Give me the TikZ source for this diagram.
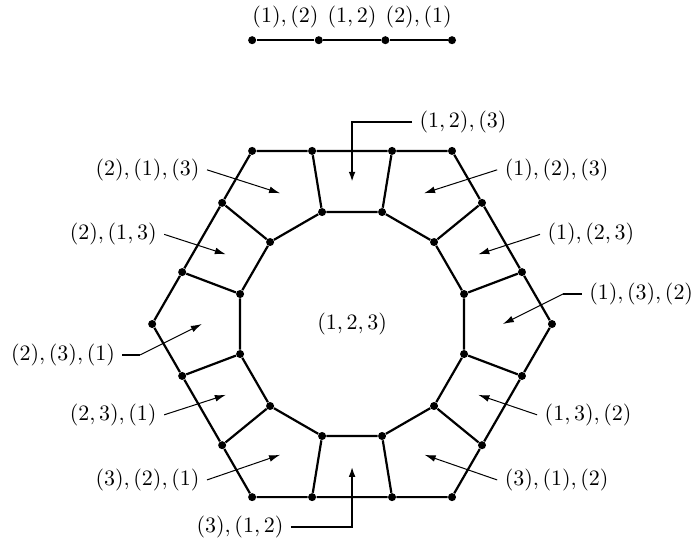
\documentclass[11pt,tikz,border=0pt]{standalone}
\usetikzlibrary{arrows.meta, positioning, calc}

\begin{document}
\begin{tikzpicture}[
        dot/.style  = {circle, fill, inner sep=0pt, minimum size=4pt},
        edge/.style = {line width=1.1pt},
        lbl/.style  = {inner sep=3.6pt},
        ar/.style   = {-{Latex[length=5.5pt, width=3.4pt]}, line width=0.5pt},
        elb/.style  = {-{Latex[length=5pt, width=3.4pt]}, line width=0.9pt},
        stub/.style = {line width=1.1pt}
    ]
        \useasboundingbox (-6.165,-3.818) rectangle (5.97,5.674);

        % the segment on top
        \node[dot] (s0) at (-1.75,4.97)  {};
        \node[dot] (s1) at (-0.583,4.97) {};
        \node[dot] (s2) at (0.583,4.97)  {};
        \node[dot] (s3) at (1.75,4.97)   {};
        \draw[edge] (s0) -- node[lbl, above=2pt] (e01) {$(1),(2)$} (s1)
                         -- node[lbl, above=2pt] (e12) {$(1,2)$} (s2)
                         -- node[lbl, above=2pt] (e23) {$(2),(1)$} (s3);

        % hexagon and inner ring
        \foreach \k in {0,...,5} {
            \node[dot] (h\k) at (60*\k:3.5)     {};
            \node[dot] (c\k) at (60*\k+15:2.03) {};
            \node[dot] (d\k) at (60*\k+45:2.03) {};
        }
        \foreach \k [evaluate=\k as \n using {int(mod(\k+1,6))}] in {0,...,5} {
            \node[dot] (a\k) at ($(h\k)!0.3!(h\n)$) {};
            \node[dot] (b\k) at ($(h\k)!0.7!(h\n)$) {};
            \draw[edge] (h\k) -- (a\k) -- (b\k) -- (h\n);
            \draw[edge] (c\k) -- (d\k) -- (c\n);
            \draw[edge] (a\k) -- (c\k);
            \draw[edge] (b\k) -- (d\k);
        }

        \node[lbl] (r123) at (0,0) {$(1,2,3)$};

        % left side
        \node[lbl, anchor=east] (r2-1-3) at (-2.54,2.70)  {$(2),(1),(3)$};
        \node[lbl, anchor=east] (r2-13)  at (-3.29,1.57)  {$(2),(1,3)$};
        \node[lbl, anchor=east] (r2-3-1) at (-4.02,-0.54) {$(2),(3),(1)$};
        \node[lbl, anchor=east] (r23-1)  at (-3.29,-1.59) {$(2,3),(1)$};
        \node[lbl, anchor=east] (r3-2-1) at (-2.54,-2.73) {$(3),(2),(1)$};
        \node[lbl, anchor=east] (r3-12)  at (-1.07,-3.56) {$(3),(1,2)$};

        % right side
        \node[lbl, anchor=west] (r12-3)  at (1.05,3.54)   {$(1,2),(3)$};
        \node[lbl, anchor=west] (r1-2-3) at (2.54,2.70)   {$(1),(2),(3)$};
        \node[lbl, anchor=west] (r1-23)  at (3.29,1.57)   {$(1),(2,3)$};
        \node[lbl, anchor=west] (r1-3-2) at (4.02,0.53)   {$(1),(3),(2)$};
        \node[lbl, anchor=west] (r13-2)  at (3.24,-1.59)  {$(1,3),(2)$};
        \node[lbl, anchor=west] (r3-1-2) at (2.54,-2.73)  {$(3),(1),(2)$};

        % arrow tips and bends
        \coordinate (t2-1-3) at (-1.26,2.29);
        \coordinate (t2-13)  at (-2.21,1.22);
        \coordinate (k2-3-1) at (-3.71,-0.54);
        \coordinate (t2-3-1) at (-2.63,0);
        \coordinate (t23-1)  at (-2.21,-1.24);
        \coordinate (t3-2-1) at (-1.26,-2.29);
        \coordinate (t3-12)  at (0,-2.50);
        \coordinate (t12-3)  at (0,2.49);
        \coordinate (t1-2-3) at (1.26,2.29);
        \coordinate (t1-23)  at (2.21,1.22);
        \coordinate (k1-3-2) at (3.70,0.53);
        \coordinate (t1-3-2) at (2.64,0);
        \coordinate (t13-2)  at (2.21,-1.24);
        \coordinate (t3-1-2) at (1.27,-2.29);

        \draw[ar] (r2-1-3.east) -- (t2-1-3);
        \draw[ar] (r2-13.east)  -- (t2-13);
        \draw[stub] (r2-3-1.east) -- (k2-3-1);
        \draw[ar] (k2-3-1) -- (t2-3-1);
        \draw[ar] (r23-1.east)  -- (t23-1);
        \draw[ar] (r3-2-1.east) -- (t3-2-1);
        \draw[elb] (r3-12.east) -| (t3-12);

        \draw[elb] (r12-3.west) -| (t12-3);
        \draw[ar] (r1-2-3.west) -- (t1-2-3);
        \draw[ar] (r1-23.west)  -- (t1-23);
        \draw[stub] (r1-3-2.west) -- (k1-3-2);
        \draw[ar] (k1-3-2) -- (t1-3-2);
        \draw[ar] (r13-2.west)  -- (t13-2);
        \draw[ar] (r3-1-2.west) -- (t3-1-2);
    \end{tikzpicture}
\end{document}
